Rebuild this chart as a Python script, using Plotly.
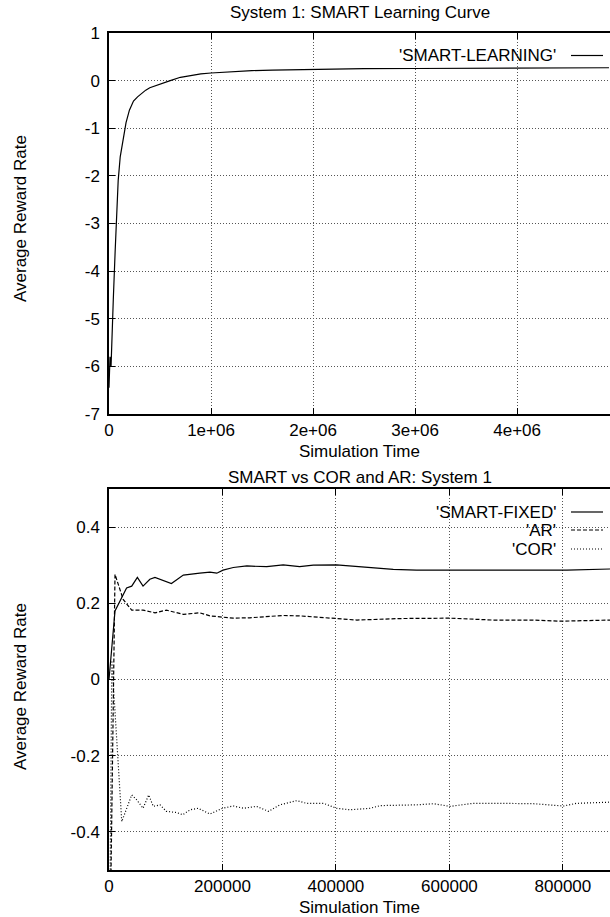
import plotly.graph_objects as go

# ---------------- data ----------------
learn_x = [0, 10000, 20000, 30000, 42000, 60000, 75000, 90000, 110000, 140000, 157000, 167000,
           200000, 240000, 280000, 320000, 360000, 400000, 450000, 500000, 600000, 700000,
           800000, 900000, 1000000, 1200000, 1400000, 1600000, 1800000, 2000000, 2500000,
           3000000, 3500000, 4000000, 4500000, 4900000]
learn_y = [-6.45, -5.8, -6.0, -5.2, -4.6, -3.6, -2.85, -2.1, -1.6, -1.24, -0.97, -0.88,
           -0.62, -0.43, -0.34, -0.26, -0.2, -0.15, -0.11, -0.07, 0.0, 0.07,
           0.11, 0.14, 0.16, 0.19, 0.21, 0.22, 0.23, 0.24, 0.25,
           0.255, 0.26, 0.26, 0.265, 0.27]

smart_x = [0, 10600, 31000, 40000, 50000, 60000, 72000, 81000, 110000, 131000, 160000, 178000,
           190000, 201000, 219000, 243000, 278000, 307000, 336000, 360000, 401000, 454000,
           501000, 542000, 601000, 689000, 748000, 807000, 883000]
smart_y = [0.0, 0.18, 0.24, 0.245, 0.268, 0.245, 0.263, 0.268, 0.252, 0.274, 0.279, 0.282,
           0.279, 0.287, 0.294, 0.298, 0.296, 0.301, 0.296, 0.3, 0.301, 0.294,
           0.289, 0.287, 0.287, 0.287, 0.287, 0.287, 0.29]

ar_x = [0, 10600, 25000, 40000, 60000, 81000, 101000, 131000, 160000, 178000, 219000, 248000,
        307000, 336000, 401000, 437000, 513000, 548000, 601000, 677000, 748000, 795000, 883000]
ar_y = [-0.9, 0.276, 0.21, 0.182, 0.182, 0.175, 0.182, 0.171, 0.175, 0.167, 0.161, 0.162,
        0.168, 0.167, 0.16, 0.156, 0.16, 0.161, 0.161, 0.156, 0.156, 0.153, 0.156]

cor_x = [0, 5000, 22500, 40000, 49000, 60000, 70000, 78000, 90000, 101000, 119000, 130000,
         143000, 157000, 178000, 200000, 219000, 237000, 260000, 281000, 301000, 313000,
         331000, 348000, 378000, 401000, 425000, 460000, 478000, 542000, 572000, 601000,
         642000, 689000, 748000, 801000, 824000, 883000]
cor_y = [-0.9, 0.05, -0.373, -0.303, -0.316, -0.338, -0.303, -0.333, -0.329, -0.346, -0.349, -0.355,
         -0.342, -0.338, -0.353, -0.338, -0.332, -0.338, -0.333, -0.346, -0.329, -0.324,
         -0.318, -0.325, -0.325, -0.338, -0.342, -0.338, -0.331, -0.329, -0.326, -0.333,
         -0.325, -0.325, -0.326, -0.332, -0.325, -0.322]

top_xticks = [0, 1000000, 2000000, 3000000, 4000000]
top_xtext = ["0", "1e+06", "2e+06", "3e+06", "4e+06"]
top_yticks = [1, 0, -1, -2, -3, -4, -5, -6, -7]
top_ytext = ["1", "0", "-1", "-2", "-3", "-4", "-5", "-6", "-7"]
bot_xticks = [0, 200000, 400000, 600000, 800000]
bot_xtext = ["0", "200000", "400000", "600000", "800000"]
bot_yticks = [0.4, 0.2, 0, -0.2, -0.4]
bot_ytext = ["0.4", "0.2", "0", "-0.2", "-0.4"]

titles = ["System 1: SMART Learning Curve", "SMART vs COR and AR: System 1"]
xlabel = "Simulation Time"
ylabel = "Average Reward Rate"
legend_top = ["'SMART-LEARNING'"]
legend_bot = ["'SMART-FIXED'", "'AR'", "'COR'"]

# ---------------- figure ----------------
W, H = 610, 917
L, R, T, B = 109, 0, 33, 47
PW, PH = W - L - R, H - T - B


def py(p):  # pixel y -> paper y
    return (H - B - p) / PH


def px(p):  # pixel x -> paper x
    return (p - L) / PW


FONT = dict(family="Liberation Sans, Arial, Helvetica, sans-serif", size=17, color="black")
line_w = 1.2

fig = go.Figure()
fig.add_trace(go.Scatter(x=learn_x, y=learn_y, mode="lines", xaxis="x", yaxis="y",
                         line=dict(color="black", width=line_w), showlegend=False))
fig.add_trace(go.Scatter(x=smart_x, y=smart_y, mode="lines", xaxis="x2", yaxis="y2",
                         line=dict(color="black", width=line_w), showlegend=False))
fig.add_trace(go.Scatter(x=ar_x, y=ar_y, mode="lines", xaxis="x2", yaxis="y2",
                         line=dict(color="black", width=line_w, dash="4px,2px"), showlegend=False))
fig.add_trace(go.Scatter(x=cor_x, y=cor_y, mode="lines", xaxis="x2", yaxis="y2",
                         line=dict(color="black", width=line_w, dash="1px,2px"), showlegend=False))

grid = dict(showgrid=True, gridcolor="#555555", griddash="1px,2px", gridwidth=1,
            zeroline=False, showline=True, linecolor="black", linewidth=1.5,
            ticks="inside", ticklen=6, tickcolor="black", tickfont=FONT, automargin=False)

top_dom = [py(414), 1.0]
bot_dom = [0.0, py(489)]

fig.update_layout(
    width=W, height=H, margin=dict(l=L, r=R, t=T, b=B, autoexpand=False),
    paper_bgcolor="white", plot_bgcolor="white", font=FONT,
    showlegend=False,
    xaxis=dict(domain=[0, 1], anchor="y", range=[0, 4910000], tickvals=top_xticks,
               ticktext=top_xtext, mirror="ticks", ticklabelstandoff=0, **grid),
    yaxis=dict(domain=top_dom, anchor="x", range=[-7, 1], tickvals=top_yticks,
               ticktext=top_ytext, mirror=False, ticklabelstandoff=4, **grid),
    xaxis2=dict(domain=[0, 1], anchor="y2", range=[0, 883000], tickvals=bot_xticks,
                ticktext=bot_xtext, mirror="ticks", ticklabelstandoff=0, **grid),
    yaxis2=dict(domain=bot_dom, anchor="x2", range=[-0.5, 0.5], tickvals=bot_yticks,
                ticktext=bot_ytext, mirror=False, ticklabelstandoff=4, **grid),
)

ann = []
ann.append(dict(text=titles[0], x=0.5, y=py(12), xref="paper", yref="paper",
                xanchor="center", yanchor="middle", showarrow=False, font=FONT))
ann.append(dict(text=xlabel, x=0.5, y=py(451), xref="paper", yref="paper",
                xanchor="center", yanchor="middle", showarrow=False, font=FONT))
ann.append(dict(text=titles[1], x=0.5, y=py(477), xref="paper", yref="paper",
                xanchor="center", yanchor="middle", showarrow=False, font=FONT))
ann.append(dict(text=xlabel, x=0.5, y=py(907), xref="paper", yref="paper",
                xanchor="center", yanchor="middle", showarrow=False, font=FONT))
ann.append(dict(text=ylabel, x=px(20), y=py(219), xref="paper", yref="paper", textangle=-90,
                xanchor="center", yanchor="middle", showarrow=False, font=FONT))
ann.append(dict(text=ylabel, x=px(20), y=py(687), xref="paper", yref="paper", textangle=-90,
                xanchor="center", yanchor="middle", showarrow=False, font=FONT))

shapes = []
# legend entries (gnuplot style: text right-aligned, sample to the right)
leg_rows = [(legend_top[0], 55.5, None)]
leg_rows += [(legend_bot[0], 512, None), (legend_bot[1], 530, "4px,2px"), (legend_bot[2], 549, "1px,2px")]
for txt, ypix, dash in leg_rows:
    ann.append(dict(text=txt, x=px(558), y=py(ypix), xref="paper", yref="paper",
                    xanchor="right", yanchor="middle", showarrow=False, font=FONT))
    ln = dict(color="black", width=line_w)
    if dash:
        ln["dash"] = dash
    shapes.append(dict(type="line", xref="paper", yref="paper", x0=px(571), x1=px(603),
                       y0=py(ypix), y1=py(ypix), line=ln))

fig.update_layout(annotations=ann, shapes=shapes)
fig.write_html("out.html", config={"displayModeBar": False})

# remove the browser's default 8px body margin so the figure sits at the page origin
with open("out.html", "r", encoding="utf-8") as f:
    html = f.read()
html = html.replace("<head>", "<head><style>html,body{margin:0;padding:0;overflow:hidden;}</style>", 1)
with open("out.html", "w", encoding="utf-8") as f:
    f.write(html)
